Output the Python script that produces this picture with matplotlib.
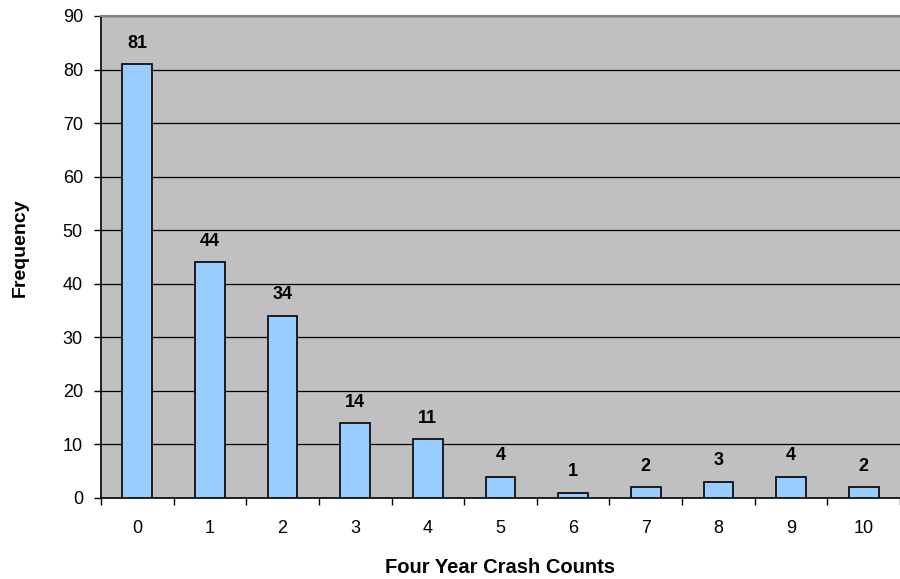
import numpy as np
import matplotlib.pyplot as plt

plt.rcParams['font.family'] = ['Liberation Sans', 'DejaVu Sans']

counts = ['0', '1', '2', '3', '4', '5', '6', '7', '8', '9', '10']
freq = [81, 44, 34, 14, 11, 4, 1, 2, 3, 4, 2]

fig = plt.figure(figsize=(9, 5.79), dpi=100)
ax = fig.add_axes([0.1122, 0.1399, 0.8878, 0.8325])
ax.set_facecolor('#C0C0C0')

x = np.arange(len(counts))
ax.bar(x, freq, width=0.41, color='#99CCFF', edgecolor='black', linewidth=1.2, zorder=3)

for xi, v in zip(x, freq):
    ax.annotate(str(v), (xi, v), xytext=(0, 9), textcoords='offset points',
                ha='center', va='bottom', fontsize=13, fontweight='bold')

ax.set_xlim(-0.5, 10.5)
ax.set_ylim(0, 90)
ax.set_yticks(range(0, 91, 10))
ax.yaxis.grid(True, color='black', linewidth=0.9, zorder=1)
ax.set_axisbelow(True)

ax.set_xticks(x)
ax.set_xticklabels(counts, fontsize=13)
ax.tick_params(axis='x', which='major', length=0, pad=16)
ax.set_xticks(np.arange(-0.5, 11, 1), minor=True)
ax.tick_params(axis='x', which='minor', length=5, width=1, direction='out')
ax.tick_params(axis='y', labelsize=13, length=5, width=1, direction='out', pad=8)

for s in ['left', 'bottom']:
    ax.spines[s].set_color('black')
    ax.spines[s].set_linewidth(1.2)
ax.spines['top'].set_color('#808080')
ax.spines['top'].set_linewidth(1.5)
ax.spines['right'].set_visible(False)

ax.set_xlabel('Four Year Crash Counts', fontsize=14.5, fontweight='bold', labelpad=15)
ax.set_ylabel('Frequency', fontsize=14, fontweight='bold')
ax.yaxis.set_label_coords(-0.091, 0.519)

fig.savefig('out.png', dpi=100)
